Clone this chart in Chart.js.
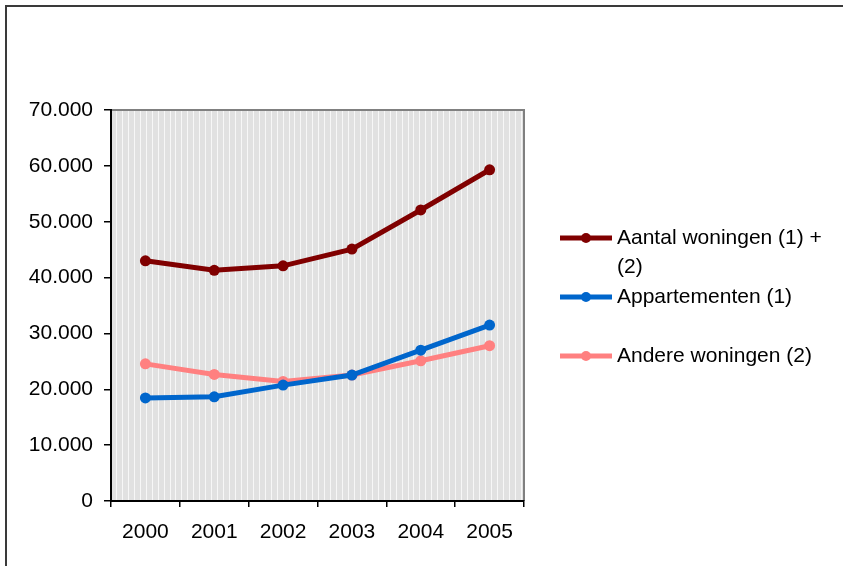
<!DOCTYPE html>
<html>
<head>
<meta charset="utf-8">
<script src="https://cdn.jsdelivr.net/npm/chart.js@4"></script>
<style>
  html, body { margin: 0; padding: 0; background: #ffffff; }
  #wrap { width: 843px; height: 566px; }
</style>
</head>
<body>
<div id="wrap"><canvas id="c" width="843" height="566"></canvas></div>
<script>
// ---- data ----
const years = ['2000', '2001', '2002', '2003', '2004', '2005'];
const aantalWoningen = [43000, 41300, 42100, 45100, 52100, 59300];
const appartementen = [18450, 18650, 20750, 22550, 27000, 31500];
const andereWoningen = [24550, 22650, 21400, 22550, 25100, 27800];
const seriesLabels = ['Aantal woningen (1) + (2)', 'Appartementen (1)', 'Andere woningen (2)'];
const yTicks = [0, 10000, 20000, 30000, 40000, 50000, 60000, 70000];

const colors = ['#800000', '#0066CC', '#FF8080'];
const FONT = '"Liberation Sans", Arial, sans-serif';

function fmt(v) {
  return String(v).replace(/\B(?=(\d{3})+(?!\d))/g, '.');
}

const decor = {
  id: 'decor',
  beforeDraw(chart) {
    const { ctx, chartArea: a } = chart;
    ctx.save();
    // outer frame (only top/left visible)
    ctx.strokeStyle = '#3a3a3a';
    ctx.lineWidth = 2;
    ctx.beginPath();
    ctx.moveTo(6, 570);
    ctx.lineTo(6, 6);
    ctx.lineTo(850, 6);
    ctx.stroke();
    // plot background
    ctx.fillStyle = '#e1e1e1';
    ctx.fillRect(a.left, a.top, a.right - a.left, a.bottom - a.top);
    ctx.fillStyle = '#f7f7f7';
    for (let x = a.left + 5; x < a.right; x += 5.95) {
      ctx.fillRect(Math.round(x), a.top, 1, a.bottom - a.top);
    }
    // gray top/right border
    ctx.strokeStyle = '#808080';
    ctx.lineWidth = 2;
    ctx.beginPath();
    ctx.moveTo(a.left, a.top);
    ctx.lineTo(a.right, a.top);
    ctx.lineTo(a.right, a.bottom);
    ctx.stroke();
    ctx.restore();
  },
  afterDraw(chart, args, opts) {
    const { ctx } = chart;
    ctx.save();
    ctx.font = '21px ' + FONT;
    ctx.textBaseline = 'middle';
    ctx.textAlign = 'left';
    chart.data.datasets.forEach((ds, i) => {
      const y = opts.itemY[i];
      ctx.strokeStyle = ds.borderColor;
      ctx.lineWidth = 5;
      ctx.beginPath();
      ctx.moveTo(opts.lineX0, y);
      ctx.lineTo(opts.lineX1, y);
      ctx.stroke();
      ctx.fillStyle = ds.borderColor;
      ctx.beginPath();
      ctx.arc((opts.lineX0 + opts.lineX1) / 2, y, 5, 0, Math.PI * 2);
      ctx.fill();
      // wrap text
      const words = ds.label.split(' ');
      const lines = [];
      let cur = '';
      words.forEach(w => {
        const t = cur ? cur + ' ' + w : w;
        if (ctx.measureText(t).width > opts.maxW && cur) { lines.push(cur); cur = w; }
        else cur = t;
      });
      lines.push(cur);
      ctx.fillStyle = '#000';
      lines.forEach((ln, k) => ctx.fillText(ln, opts.textX, y + k * opts.lineH));
    });
    ctx.restore();
  }
};

new Chart(document.getElementById('c'), {
  type: 'line',
  data: {
    labels: years,
    datasets: [aantalWoningen, appartementen, andereWoningen].map((d, i) => ({
      label: seriesLabels[i],
      data: d,
      borderColor: colors[i],
      backgroundColor: colors[i],
      pointBackgroundColor: colors[i],
      pointBorderColor: colors[i],
      borderWidth: 5,
      pointRadius: 5.5,
      pointBorderWidth: 0,
      tension: 0,
      fill: false
    }))
  },
  options: {
    responsive: false,
    animation: false,
    events: [],
    layout: { padding: { top: 110, right: 319, bottom: 0, left: 0 } },
    plugins: {
      legend: { display: false },
      tooltip: { enabled: false },
      decor: { itemY: [238, 297, 356], lineX0: 560, lineX1: 612, textX: 617, maxW: 218, lineH: 29 }
    },
    scales: {
      x: {
        type: 'category',
        offset: true,
        grid: { offset: true, drawOnChartArea: false, color: '#000', tickLength: 6, lineWidth: 1.5 },
        border: { color: '#000', width: 2 },
        ticks: { font: { family: FONT, size: 21 }, color: '#000', padding: 13, maxRotation: 0 },
        afterFit(s) { s.height = 65; }
      },
      y: {
        min: 0,
        max: 70000,
        afterBuildTicks(s) { s.ticks = yTicks.map(v => ({ value: v })); },
        grid: { drawOnChartArea: false, color: '#000', tickLength: 7, lineWidth: 1.5 },
        border: { color: '#000', width: 2 },
        ticks: { font: { family: FONT, size: 21 }, color: '#000', padding: 11, callback: v => fmt(v) },
        afterFit(s) { s.width = 111; }
      }
    }
  },
  plugins: [decor]
});
</script>
</body>
</html>
